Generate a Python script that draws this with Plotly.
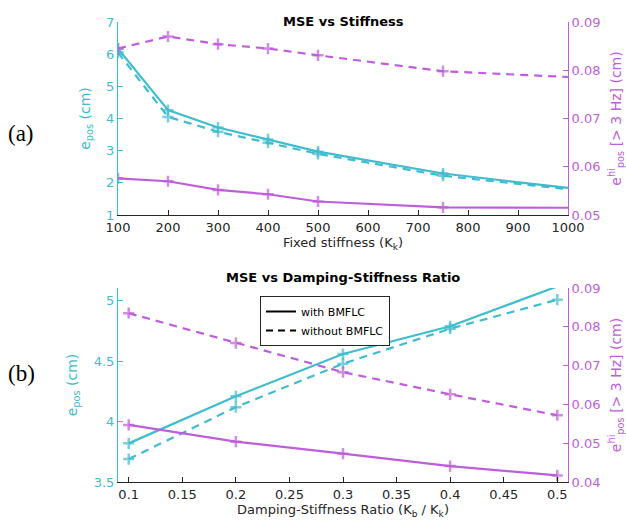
import plotly.graph_objects as go

# ---- data: (a) MSE vs Stiffness ----
stiff = [100, 200, 300, 400, 500, 750, 1000]
a_pos_with = [6.17, 4.26, 3.72, 3.35, 2.97, 2.29, 1.84]
a_pos_without = [6.05, 4.05, 3.59, 3.25, 2.90, 2.22, 1.80]
a_hi_with = [0.0576, 0.0570, 0.0552, 0.0543, 0.0528, 0.0516, 0.0515]
a_hi_without = [0.0845, 0.0870, 0.0854, 0.0845, 0.0831, 0.0798, 0.0786]

# ---- data: (b) MSE vs Damping-Stiffness Ratio ----
ratio = [0.1, 0.2, 0.3, 0.4, 0.5]
b_pos_with = [3.82, 4.21, 4.56, 4.79, 5.12]
b_pos_without = [3.69, 4.12, 4.48, 4.77, 5.01]
b_hi_with = [0.0547, 0.0504, 0.0473, 0.0441, 0.0417]
b_hi_without = [0.0835, 0.0758, 0.0683, 0.0626, 0.0572]

CYAN = "#40BCCF"
MAG = "#BE5EDC"
DARK = "#262626"
FONT = "DejaVu Sans"
DASH = "8px,6px"

fig = go.Figure()

def add(x, y, xa, ya, color, dash, msizes):
    fig.add_trace(go.Scatter(
        x=x, y=y, xaxis=xa, yaxis=ya, mode="lines+markers",
        line=dict(color=color, width=2.2, dash=dash),
        marker=dict(symbol="cross-thin", size=msizes,
                    line=dict(color=color, width=2.5)),
        showlegend=False, hoverinfo="skip"))

M = 8
ms_a = [M, M, M, M, M, M, 0]
ms_b = [M, M, M, M, M]
add(stiff, a_pos_with, "x", "y", CYAN, "solid", ms_a)
add(stiff, a_pos_without, "x", "y", CYAN, DASH, ms_a)
add(stiff, a_hi_with, "x", "y2", MAG, "solid", ms_a)
add(stiff, a_hi_without, "x", "y2", MAG, DASH, ms_a)
add(ratio, b_pos_with, "x2", "y3", CYAN, "solid", [M, M, M, M, 0])
add(ratio, b_pos_without, "x2", "y3", CYAN, DASH, ms_b)
add(ratio, b_hi_with, "x2", "y4", MAG, "solid", ms_b)
add(ratio, b_hi_without, "x2", "y4", MAG, DASH, ms_b)

# legend entries
fig.add_trace(go.Scatter(x=[None], y=[None], xaxis="x2", yaxis="y3", mode="lines",
                         line=dict(color="black", width=2), name="with BMFLC"))
fig.add_trace(go.Scatter(x=[None], y=[None], xaxis="x2", yaxis="y3", mode="lines",
                         line=dict(color="black", width=2, dash="7px,5px"), name="without BMFLC"))

xd = [118 / 626, 568 / 626]
top_dom = [1 - 215 / 527, 1 - 22 / 527]
bot_dom = [1 - 482 / 527, 1 - 288 / 527]

def xaxis(dom_anchor, rng, dtick, title, tickvals=None, ticktext=None):
    d = dict(domain=xd, anchor=dom_anchor, range=rng, showline=True, linecolor=DARK,
             linewidth=1, ticks="inside", ticklen=5, tickcolor=DARK, showgrid=False,
             zeroline=False, automargin=False,
             tickfont=dict(family=FONT, size=13, color=DARK),
             title=dict(text=title, font=dict(family=FONT, size=13, color=DARK), standoff=4))
    if tickvals is not None:
        d.update(tickmode="array", tickvals=tickvals, ticktext=ticktext)
    else:
        d.update(dtick=dtick)
    return d

def yaxis(dom, anchor, rng, dtick, color, title, side, standoff, overlay=None,
          tickvals=None, ticktext=None):
    d = dict(domain=dom, anchor=anchor, range=rng, showline=True, linecolor=color,
             linewidth=1, ticks="inside", ticklen=5, tickcolor=color, showgrid=False,
             zeroline=False, side=side, automargin=False,
             tickfont=dict(family=FONT, size=13, color=color),
             title=dict(text=title, font=dict(family=FONT, size=14, color=color),
                        standoff=standoff))
    if overlay:
        d["overlaying"] = overlay
    if tickvals is not None:
        d.update(tickmode="array", tickvals=tickvals, ticktext=ticktext)
    else:
        d.update(dtick=dtick)
    return d

left_title = "e<sub>pos</sub> (cm)"
right_title = "e<sup>hi</sup><sub>pos</sub> [> 3 Hz] (cm)"

fig.update_layout(
    width=626, height=527, margin=dict(l=0, r=0, t=0, b=0, autoexpand=False),
    paper_bgcolor="white", plot_bgcolor="white",
    xaxis=xaxis("y", [100, 1000], 100, "Fixed stiffness (K<sub>k</sub>)"),
    yaxis=yaxis(top_dom, "x", [1, 7], 1, CYAN, left_title, "left", 12),
    yaxis2=yaxis(top_dom, "x", [0.05, 0.09], 0.01, MAG, right_title, "right", 12, overlay="y",
                 tickvals=[0.05, 0.06, 0.07, 0.08, 0.09],
                 ticktext=["0.05", "0.06", "0.07", "0.08", "0.09"]),
    xaxis2=xaxis("y3", [0.09, 0.51], None, "Damping-Stiffness Ratio (K<sub>b</sub> / K<sub>k</sub>)",
                 tickvals=[0.1, 0.15, 0.2, 0.25, 0.3, 0.35, 0.4, 0.45, 0.5],
                 ticktext=["0.1", "0.15", "0.2", "0.25", "0.3", "0.35", "0.4", "0.45", "0.5"]),
    yaxis3=yaxis(bot_dom, "x2", [3.5, 5.107], None, CYAN, left_title, "left", 12,
                 tickvals=[3.5, 4, 4.5, 5], ticktext=["3.5", "4", "4.5", "5"]),
    yaxis4=yaxis(bot_dom, "x2", [0.04, 0.09], None, MAG, right_title, "right", 12, overlay="y3",
                 tickvals=[0.04, 0.05, 0.06, 0.07, 0.08, 0.09],
                 ticktext=["0.04", "0.05", "0.06", "0.07", "0.08", "0.09"]),
    legend=dict(x=260 / 626, y=1 - 296 / 527, xanchor="left", yanchor="top",
                bgcolor="white", bordercolor=DARK, borderwidth=1,
                font=dict(family=FONT, size=11, color="black"),
                tracegroupgap=0, itemwidth=30),
    showlegend=True,
    annotations=[
        dict(text="<b>MSE vs Stiffness</b>", x=343 / 626, y=1 - 12 / 527, xref="paper", yref="paper",
             showarrow=False, font=dict(family=FONT, size=13, color="black")),
        dict(text="<b>MSE vs Damping-Stiffness Ratio</b>", x=343 / 626, y=1 - 277 / 527,
             xref="paper", yref="paper", showarrow=False,
             font=dict(family=FONT, size=13, color="black")),
        dict(text="(a)", x=21 / 626, y=1 - 133 / 527, xref="paper", yref="paper", showarrow=False,
             xanchor="center", yanchor="middle",
             font=dict(family="Liberation Serif", size=23, color="black")),
        dict(text="(b)", x=21 / 626, y=1 - 373 / 527, xref="paper", yref="paper", showarrow=False,
             xanchor="center", yanchor="middle",
             font=dict(family="Liberation Serif", size=23, color="black")),
    ],
)

fig.write_html("out.html")
